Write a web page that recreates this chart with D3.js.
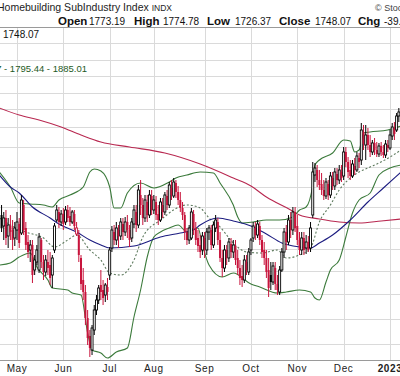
<!DOCTYPE html>
<html>
<head>
<meta charset="utf-8">
<script src="https://cdn.jsdelivr.net/npm/d3@7"></script>
<style>
  body { margin: 0; background: #fff; overflow: hidden; }
  svg { display: block; }
  text { font-family: Arial, "Liberation Sans", sans-serif; }
</style>
</head>
<body>
<div id="wrapper"></div>
<script>
// month labels and the trading-day index where each month starts
const months = ["May", "Jun", "Jul", "Aug", "Sep", "Oct", "Nov", "Dec", "2023"];
const monthStart = [7, 28, 49, 69, 92, 113, 134, 155, 176];

// daily OHLC, one entry per trading day from late April 2022 to early Jan 2023
const opens = [1455,1422,1446,1392,1422,1410,1386,1410,1428,1401,1485,1416,1374,1350,1365,1290,1314,1290,1380,1314,
  1284,1314,1305,1275,1350,1440,1464,1434,1458,1434,1470,1452,1434,1458,1398,1395,1326,1260,1224,1146,
  1092,1050,1110,1170,1200,1245,1230,1215,1239,1275,1356,1404,1380,1410,1392,1428,1404,1434,1410,1386,
  1428,1464,1425,1515,1485,1446,1494,1455,1512,1470,1494,1458,1440,1485,1464,1512,1485,1536,1512,1551,
  1524,1500,1476,1455,1404,1380,1386,1458,1416,1386,1365,1350,1386,1350,1404,1410,1365,1416,1434,1380,
  1326,1296,1350,1326,1368,1344,1362,1326,1296,1272,1260,1314,1284,1350,1386,1416,1395,1422,1380,1350,
  1326,1290,1275,1254,1296,1248,1224,1290,1344,1404,1374,1440,1410,1464,1422,1380,1350,1386,1356,1374,
  1356,1455,1575,1590,1560,1548,1530,1512,1548,1515,1566,1542,1578,1560,1584,1572,1644,1614,1590,1572,
  1602,1590,1626,1620,1704,1665,1695,1665,1644,1671,1650,1638,1662,1644,1635,1665,1656,1692,1716,1710,1752];
const highs = [1485,1464,1470,1446,1455,1440,1434,1464,1446,1515,1500,1434,1395,1380,1380,1335,1365,1401,1386,1335,
  1335,1350,1344,1335,1431,1485,1479,1470,1476,1482,1485,1479,1470,1470,1434,1410,1335,1296,1245,1170,
  1110,1125,1185,1215,1245,1290,1260,1251,1266,1359,1422,1425,1434,1425,1446,1446,1449,1455,1425,1446,
  1485,1485,1545,1560,1506,1515,1515,1530,1530,1515,1512,1485,1506,1506,1524,1530,1554,1560,1566,1560,
  1542,1524,1494,1464,1416,1425,1476,1470,1434,1410,1395,1404,1404,1416,1425,1425,1434,1455,1446,1404,
  1350,1365,1365,1386,1386,1380,1380,1350,1320,1305,1335,1335,1356,1386,1434,1434,1440,1434,1395,1374,
  1350,1326,1314,1314,1314,1275,1302,1356,1416,1425,1455,1464,1479,1479,1455,1404,1404,1404,1395,1392,
  1434,1614,1611,1605,1590,1581,1560,1566,1560,1584,1584,1596,1596,1605,1605,1659,1659,1629,1620,1620,
  1626,1644,1641,1731,1725,1725,1716,1695,1680,1686,1674,1671,1674,1665,1680,1680,1710,1731,1734,1761,1776];
const lows = [1404,1380,1365,1356,1380,1350,1362,1380,1356,1395,1395,1350,1326,1314,1251,1275,1305,1281,1296,1260,
  1272,1275,1245,1236,1341,1434,1416,1422,1410,1425,1434,1422,1428,1410,1392,1314,1230,1200,1125,1065,
  1029,1035,1095,1155,1188,1200,1185,1194,1200,1260,1344,1365,1365,1356,1380,1380,1392,1386,1359,1374,
  1416,1404,1416,1455,1425,1434,1434,1446,1455,1458,1440,1425,1434,1446,1455,1470,1476,1500,1506,1506,
  1485,1464,1440,1380,1365,1368,1380,1395,1365,1344,1326,1335,1326,1335,1380,1350,1356,1404,1365,1314,
  1269,1284,1305,1314,1326,1326,1305,1275,1245,1239,1251,1275,1275,1335,1374,1380,1386,1365,1326,1305,
  1266,1209,1230,1245,1230,1215,1215,1284,1326,1350,1365,1386,1395,1404,1365,1335,1335,1335,1338,1344,
  1344,1446,1554,1539,1530,1515,1500,1503,1500,1506,1530,1530,1545,1548,1554,1560,1599,1566,1560,1566,
  1575,1584,1596,1605,1650,1620,1650,1629,1635,1635,1629,1629,1632,1626,1626,1644,1650,1680,1680,1704,1734];
const closes = [1416,1446,1386,1425,1404,1380,1416,1434,1371,1500,1410,1365,1344,1365,1275,1320,1350,1389,1314,1284,
  1320,1296,1266,1326,1422,1470,1434,1458,1428,1470,1446,1434,1464,1422,1416,1335,1248,1224,1146,1086,
  1056,1116,1170,1200,1236,1224,1206,1245,1224,1350,1410,1380,1416,1392,1434,1404,1434,1410,1380,1434,
  1470,1425,1530,1485,1446,1500,1455,1515,1470,1500,1455,1440,1494,1464,1515,1485,1545,1515,1554,1524,
  1500,1476,1455,1404,1380,1416,1464,1416,1380,1362,1344,1392,1350,1404,1416,1365,1425,1440,1380,1326,
  1296,1350,1326,1374,1344,1365,1320,1296,1266,1260,1320,1290,1344,1380,1422,1395,1428,1380,1344,1326,
  1284,1236,1254,1302,1248,1230,1290,1344,1404,1374,1440,1410,1464,1416,1380,1350,1386,1350,1374,1350,
  1416,1584,1596,1560,1545,1530,1512,1554,1515,1572,1542,1584,1560,1590,1566,1644,1614,1584,1572,1608,
  1590,1632,1614,1710,1668,1695,1665,1644,1671,1650,1638,1662,1644,1635,1668,1656,1695,1719,1698,1752,1764];

// overlays read at sample days: 200-day MA, 50-day MA, Bollinger bands (20,2)
const ma200Days = [-1, 8, 17, 27, 36, 45, 58, 74, 90, 105, 113, 120, 131, 135, 144, 153, 162, 172, 181];
const ma200 = [1776, 1755, 1740, 1719, 1695, 1674, 1659, 1641, 1608, 1566, 1542, 1509, 1470, 1455, 1443, 1434, 1431, 1437, 1443];
const ma50Days = [-1, 4, 8, 14, 22, 26, 34, 40, 45, 49, 60, 72, 81, 87, 90, 98, 105, 113, 120, 127, 135, 140, 144, 150, 158, 166, 173, 181];
const ma50 = [1575, 1539, 1521, 1479, 1446, 1428, 1404, 1380, 1365, 1356, 1362, 1389, 1401, 1410, 1425, 1446, 1437, 1422, 1398, 1371, 1359, 1356, 1371, 1395, 1440, 1494, 1536, 1584];
const bbUpDays = [-1, 4, 8, 13, 19, 23, 26, 31, 37, 40, 42, 45, 49, 51, 54, 57, 63, 69, 76, 79, 84, 90, 96, 99, 105, 107, 109, 114, 120, 126, 132, 135, 138, 141, 142, 144, 150, 155, 158, 160, 162, 164, 167, 175, 181];
const bbUp = [1584, 1539, 1491, 1488, 1485, 1479, 1500, 1515, 1539, 1584, 1593, 1587, 1539, 1476, 1476, 1521, 1551, 1536, 1554, 1566, 1575, 1584, 1581, 1551, 1485, 1449, 1431, 1434, 1440, 1440, 1449, 1470, 1479, 1545, 1605, 1620, 1641, 1680, 1677, 1644, 1650, 1701, 1704, 1710, 1722];
const bbLowDays = [-1, 4, 8, 13, 16, 21, 23, 30, 32, 36, 39, 41, 45, 48, 52, 57, 60, 63, 66, 69, 72, 76, 80, 84, 89, 91, 94, 100, 105, 113, 117, 125, 129, 135, 140, 142, 144, 147, 149, 153, 156, 159, 162, 167, 171, 176, 181];
const bbLow = [1305, 1311, 1329, 1341, 1299, 1260, 1236, 1230, 1221, 1215, 1101, 1050, 1041, 1026, 1044, 1056, 1149, 1230, 1329, 1389, 1404, 1416, 1425, 1404, 1416, 1365, 1305, 1269, 1281, 1248, 1239, 1221, 1224, 1230, 1224, 1206, 1200, 1254, 1290, 1320, 1389, 1461, 1500, 1521, 1575, 1596, 1605];
const bbMidDays = [-1, 4, 11, 19, 24, 30, 34, 40, 45, 49, 54, 60, 64, 72, 84, 90, 94, 99, 105, 111, 118, 125, 129, 135, 140, 144, 149, 153, 158, 162, 167, 171, 176, 181];
const bbMid = [1446, 1425, 1404, 1386, 1359, 1380, 1395, 1350, 1320, 1281, 1275, 1320, 1389, 1440, 1485, 1476, 1446, 1419, 1371, 1344, 1341, 1350, 1326, 1335, 1356, 1434, 1485, 1530, 1566, 1584, 1599, 1611, 1629, 1650];

// horizontal grid levels
const gridPrices = [1971, 1920, 1872, 1821, 1773, 1719, 1659, 1599, 1539, 1479, 1416, 1353, 1287, 1218, 1143, 1068];

// header
const ohlcLabels = ["Open", "High", "Low", "Close", "Chg"];
const ohlcValues = ["1773.19", "1774.78", "1726.37", "1748.07", "-39.69 (-2.22%)"];

const width = 400;
const height = 376;
const plotTop = 27;
const plotBottom = 360;

const svg = d3.select("#wrapper")
  .append("svg")
  .attr("width", width)
  .attr("height", height);

const xScale = d3.scaleLinear()
  .domain([monthStart[0], monthStart[monthStart.length - 1]])
  .range([17, 390]);

const yScale = d3.scaleLinear()
  .domain([1020, 2019])
  .range([plotBottom, plotTop]);

// grid
svg.selectAll(".hgrid")
  .data(gridPrices)
  .enter().append("line")
  .attr("x1", 0).attr("x2", width)
  .attr("y1", d => Math.round(yScale(d)) + 0.5)
  .attr("y2", d => Math.round(yScale(d)) + 0.5)
  .attr("stroke", "#dadada");

svg.selectAll(".vgrid")
  .data(monthStart)
  .enter().append("line")
  .attr("x1", d => Math.round(xScale(d)) + 0.5)
  .attr("x2", d => Math.round(xScale(d)) + 0.5)
  .attr("y1", plotTop).attr("y2", plotBottom)
  .attr("stroke", "#dadada");

svg.append("line")
  .attr("x1", 0).attr("x2", width)
  .attr("y1", plotTop + 0.5).attr("y2", plotTop + 0.5)
  .attr("stroke", "#9a9a9a");
svg.append("line")
  .attr("x1", 0).attr("x2", width)
  .attr("y1", plotBottom + 0.5).attr("y2", plotBottom + 0.5)
  .attr("stroke", "#9a9a9a");

// overlay lines
function drawLine(days, vals, color, dash) {
  const pts = days.map((d, i) => [d, vals[i]]);
  svg.append("path")
    .datum(pts)
    .attr("fill", "none")
    .attr("stroke", color)
    .attr("stroke-width", 1.1)
    .attr("stroke-dasharray", dash || null)
    .attr("d", d3.line()
      .x(d => xScale(d[0]))
      .y(d => yScale(d[1]))
      .curve(d3.curveMonotoneX));
}

drawLine(ma200Days, ma200, "#b82850");
drawLine(bbUpDays, bbUp, "#3b7a3b");
drawLine(bbLowDays, bbLow, "#3b7a3b");
drawLine(bbMidDays, bbMid, "#5e7a5e", "2,2");
drawLine(ma50Days, ma50, "#1c1c80");

// candles
const up = "#000000";
const down = "#c8143c";
closes.forEach((c, i) => {
  const o = opens[i];
  const col = (i === 0 || c >= closes[i - 1]) ? up : down;
  const x = xScale(i);
  svg.append("line")
    .attr("x1", x).attr("x2", x)
    .attr("y1", yScale(highs[i])).attr("y2", yScale(lows[i]))
    .attr("stroke", col).attr("stroke-width", 1);
  const yTop = yScale(Math.max(o, c));
  const yBot = yScale(Math.min(o, c));
  const hollow = c > o;
  svg.append("rect")
    .attr("x", x - 1)
    .attr("width", 2)
    .attr("y", yTop)
    .attr("height", Math.max(1, yBot - yTop))
    .attr("fill", hollow ? "#fff" : col)
    .attr("stroke", hollow ? col : "none")
    .attr("stroke-width", 0.9);
});

// month labels
svg.selectAll(".month")
  .data(months)
  .enter().append("text")
  .attr("x", (d, i) => xScale(monthStart[i]))
  .attr("y", 372)
  .attr("text-anchor", "middle")
  .attr("font-size", 10)
  .attr("font-weight", d => d === "2023" ? "bold" : "normal")
  .attr("fill", "#222")
  .attr("letter-spacing", 0.6)
  .text(d => d);

// header text
const title = svg.append("text").attr("x", -3).attr("y", 10.5).attr("font-size", 10.5).attr("fill", "#222");
title.append("tspan").text("Homebuilding SubIndustry Index ");
title.append("tspan").attr("font-size", 8.5).text("INDX");

svg.append("text").attr("x", 375).attr("y", 11).attr("font-size", 9).attr("fill", "#444").text("\u00a9 StockCharts.com");

const labelX = [58, 134, 207, 279, 358];
const valueX = [89, 163, 235, 315, 384];
ohlcLabels.forEach((k, i) => {
  svg.append("text").attr("x", labelX[i]).attr("y", 24.5)
    .attr("font-size", 11.5).attr("font-weight", "bold").attr("fill", "#111").text(k);
  svg.append("text").attr("x", valueX[i]).attr("y", 24.5)
    .attr("font-size", 10).attr("fill", "#111").text(ohlcValues[i]);
});

svg.append("text").attr("x", 3).attr("y", 38).attr("font-size", 10)
  .attr("font-family", "DejaVu Sans, Verdana, sans-serif").attr("fill", "#111")
  .text("1748.07");
svg.append("text").attr("x", 87).attr("y", 72).attr("text-anchor", "end").attr("font-size", 9.5).attr("fill", "#1e5a1e")
  .text("BB(20,2.0) 1705.87 - 1795.44 - 1885.01");
</script>
</body>
</html>
